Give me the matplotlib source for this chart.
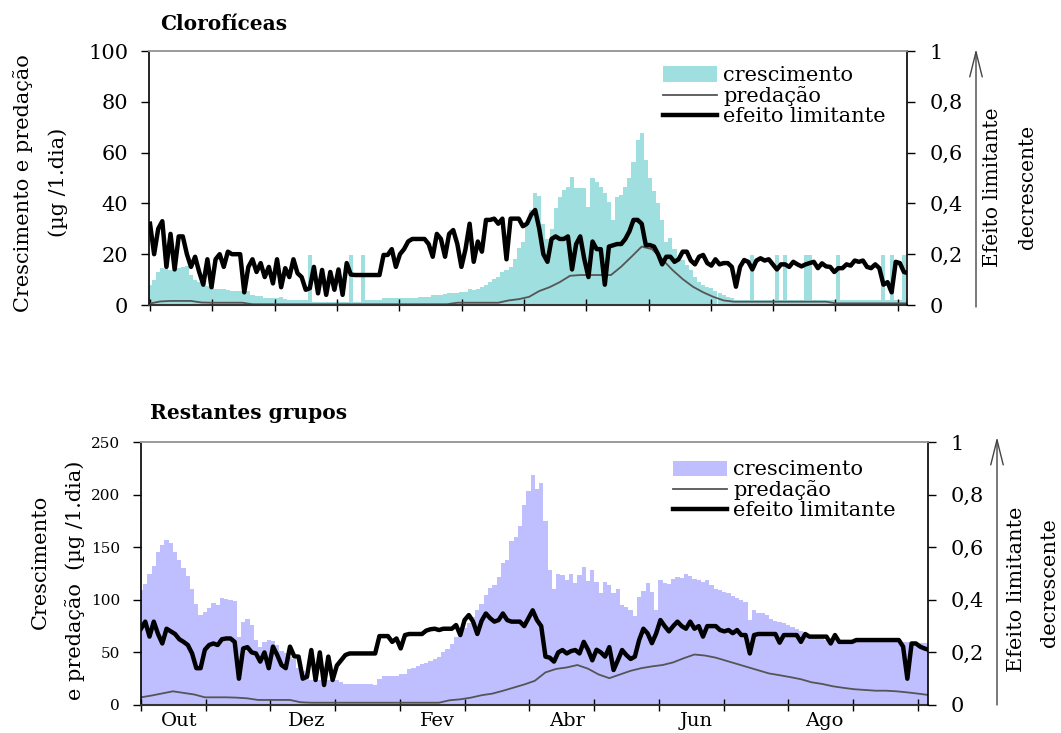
import numpy as np
import matplotlib
matplotlib.use("Agg")
import matplotlib.pyplot as plt
from matplotlib.patches import Patch, FancyArrowPatch
from matplotlib.lines import Line2D

plt.rcParams["font.family"] = ["DejaVu Serif"]

# ---------------------------------------------------------------------------
# Data: daily model output sampled every 2 days (growth, limiting effect)
# and every 5 days (grazing), day 0 = 1 October
# ---------------------------------------------------------------------------
days = np.arange(0, 371, 2)
pred_days = np.arange(0, 371, 5)

month_names = ["Out", "Dez", "Fev", "Abr", "Jun", "Ago"]
series_labels = ["crescimento", "predação", "efeito limitante"]

# Clorofíceas
cloro_growth = [
    8, 10, 13, 14.4, 14, 13.8, 14, 14.5, 15, 15.5,
    12, 9.8, 9, 8.5, 7.5, 7, 6.2, 6.2, 6.2, 5.8,
    5.6, 5.6, 5.6, 5.6, 5.4, 3.9, 3.5, 3.4, 2.8, 2.6,
    2.6, 2.6, 3.0, 2.2, 2.0, 2.0, 2.0, 2.0, 2.0, 19.7,
    1.3, 1.3, 1.3, 1.3, 1.3, 1.3, 1.3, 1.3, 1.3, 19.7,
    1.3, 1.3, 19.7, 2.0, 2.0, 2.0, 2.0, 2.6, 2.6, 2.6,
    2.6, 2.6, 2.6, 2.6, 2.6, 2.6, 3.3, 3.3, 3.3, 3.9,
    3.9, 3.9, 4.2, 4.6, 4.6, 4.8, 5.0, 5.2, 6.2, 6.0,
    6.4, 7.0, 7.9, 9.2, 10.1, 11.2, 13.1, 13.8, 15.1, 18,
    22.3, 25, 31, 37.4, 44, 43, 32, 26, 30, 38,
    42.7, 45.3, 46.6, 50.5, 46, 46, 46, 38.7, 49.9, 48.6,
    46.6, 44, 40.7, 33.5, 42.7, 43.5, 46.6, 49.9, 56.4, 65,
    67.6, 57, 50, 45, 40, 33.5, 24.9, 26.2, 22, 19,
    17.7, 15.7, 13.8, 11.2, 9.2, 7.9, 7.2, 6.6, 5.6, 4.6,
    3.9, 3.3, 2.6, 2, 2, 2, 2, 19.7, 2, 2,
    2, 2, 2, 19.7, 2, 19.7, 2, 2, 2, 2,
    19.7, 19.7, 2, 2, 2, 2, 2, 2, 19.7, 2,
    2, 2, 2, 2, 2, 2, 2, 2, 2, 19.7,
    2, 19.7, 2, 2, 19.7, 2,
]
cloro_pred = [
    0.6, 1.4, 1.6, 1.6, 1.6, 1.0, 0.9, 0.9, 0.9, 0.9,
    0.3, 0.3, 0.3, 0.3, 0.3, 0.3, 0.3, 0.3, 0.3, 0.3,
    0.3, 0.3, 0.3, 0.3, 0.3, 0.3, 0.3, 0.3, 0.3, 0.3,
    0.9, 0.9, 0.9, 0.9, 0.9, 1.8, 2.3, 3.2, 5.5, 7.0,
    9.0, 11.5, 11.8, 11.8, 11.8, 11.8, 15.1, 19, 23, 22,
    18, 13.8, 10.2, 7.2, 5.0, 3.2, 1.8, 1.3, 1.3, 1.3,
    1.3, 1.3, 1.3, 1.3, 1.3, 1.3, 1.3, 0.66, 0.66, 0.66,
    0.66, 0.66, 0.66, 0.66, 0.66,
]
cloro_limit = [
    0.32, 0.20, 0.30, 0.33, 0.15, 0.28, 0.14, 0.27, 0.27, 0.20,
    0.15, 0.19, 0.13, 0.08, 0.18, 0.07, 0.18, 0.20, 0.15, 0.21,
    0.20, 0.20, 0.20, 0.05, 0.15, 0.18, 0.13, 0.165, 0.11, 0.15,
    0.085, 0.18, 0.07, 0.145, 0.11, 0.18, 0.125, 0.11, 0.06, 0.066,
    0.15, 0.046, 0.138, 0.04, 0.13, 0.06, 0.14, 0.04, 0.165, 0.12,
    0.118, 0.118, 0.118, 0.118, 0.118, 0.118, 0.118, 0.197, 0.197, 0.22,
    0.15, 0.20, 0.22, 0.25, 0.26, 0.26, 0.26, 0.26, 0.24, 0.19,
    0.28, 0.26, 0.19, 0.28, 0.295, 0.24, 0.15, 0.22, 0.32, 0.17,
    0.25, 0.21, 0.335, 0.335, 0.34, 0.32, 0.34, 0.18, 0.34, 0.34,
    0.34, 0.31, 0.32, 0.355, 0.374, 0.30, 0.20, 0.17, 0.26, 0.27,
    0.26, 0.26, 0.27, 0.14, 0.24, 0.27, 0.18, 0.11, 0.25, 0.22,
    0.22, 0.08, 0.23, 0.235, 0.24, 0.24, 0.26, 0.29, 0.335, 0.335,
    0.32, 0.236, 0.236, 0.23, 0.20, 0.16, 0.19, 0.19, 0.17, 0.18,
    0.21, 0.21, 0.175, 0.16, 0.19, 0.197, 0.165, 0.155, 0.18, 0.16,
    0.165, 0.165, 0.15, 0.072, 0.15, 0.177, 0.17, 0.14, 0.175, 0.184,
    0.175, 0.18, 0.16, 0.14, 0.16, 0.16, 0.15, 0.17, 0.16, 0.152,
    0.16, 0.165, 0.17, 0.145, 0.164, 0.152, 0.15, 0.13, 0.145, 0.145,
    0.16, 0.155, 0.175, 0.17, 0.175, 0.15, 0.145, 0.16, 0.145, 0.08,
    0.09, 0.05, 0.17, 0.165, 0.13, 0.125,
]

# Restantes grupos
outros_growth = [
    109, 115, 125, 132, 145, 152, 157, 154, 145, 138,
    130, 123, 110, 96, 86, 88, 92, 97, 95, 102,
    101, 100, 99, 65, 79, 82, 76, 62, 55, 60,
    62, 61, 57, 51, 49, 46, 44, 35, 32, 30,
    24, 24, 24, 24, 24, 24, 24, 22, 20, 20,
    20, 20, 20, 20, 20, 19, 25, 27.6, 27.6, 27.6,
    27.6, 29.5, 29.5, 34, 35, 37, 38.5, 39.6, 42, 44,
    46, 50, 53, 58, 65, 69, 73, 78, 84, 90,
    96, 105, 111, 114, 122, 135, 138, 156, 160, 170,
    190, 203, 219, 205, 211, 175, 128, 110, 125, 124,
    119, 125, 116, 124, 131, 118, 128, 117, 106, 117,
    114, 106, 110, 95, 93, 90, 85, 103, 108, 116,
    107, 90, 119, 116, 115, 120, 122, 121, 125, 123,
    120, 119, 117, 119, 114, 110, 109, 107, 106, 104,
    102, 100, 98, 81, 90, 87, 87, 86, 82, 80,
    79, 78, 76, 74, 72, 70, 68, 67, 66, 64,
    63, 62, 62, 62, 62, 62, 62, 62, 62, 62,
    62, 60, 60, 60, 60, 60, 60, 60, 60, 60,
    60, 60, 60, 59, 59, 58.6,
]
outros_pred = [
    7.3, 9, 11, 13, 11.5, 10, 7.3, 7.3, 7.3, 7,
    6.3, 4.8, 4.8, 4.8, 4.8, 2.6, 2.2, 2.2, 2.2, 2.2,
    2.2, 2.2, 2.2, 2.2, 2.2, 2.2, 2.2, 2.2, 2.2, 4.5,
    5.4, 7, 9.3, 10.8, 13.5, 16.5, 19.5, 23, 31, 34.3,
    35.7, 38, 34.5, 29, 25.5, 29, 32.5, 35, 36.7, 38,
    40.5, 44.5, 48, 47, 45, 42, 39, 36, 33, 30,
    28.3, 26.5, 24.5, 21.6, 20, 17.8, 16.3, 15, 14.3, 13.6,
    13.6, 13, 12, 10.8, 9.5,
]
outros_limit = [
    0.29, 0.317, 0.26, 0.317, 0.27, 0.234, 0.29, 0.28, 0.27, 0.25,
    0.24, 0.228, 0.196, 0.14, 0.14, 0.21, 0.228, 0.234, 0.228, 0.25,
    0.253, 0.253, 0.24, 0.10, 0.215, 0.22, 0.2, 0.196, 0.165, 0.2,
    0.14, 0.222, 0.19, 0.152, 0.14, 0.222, 0.185, 0.184, 0.10, 0.108,
    0.209, 0.095, 0.20, 0.076, 0.184, 0.095, 0.15, 0.17, 0.19, 0.196,
    0.196, 0.196, 0.196, 0.196, 0.196, 0.196, 0.262, 0.262, 0.262, 0.24,
    0.253, 0.215, 0.266, 0.27, 0.27, 0.27, 0.27, 0.283, 0.288, 0.29,
    0.285, 0.29, 0.29, 0.29, 0.304, 0.266, 0.323, 0.342, 0.317, 0.27,
    0.32, 0.348, 0.33, 0.317, 0.323, 0.348, 0.323, 0.317, 0.317, 0.317,
    0.30, 0.33, 0.36, 0.323, 0.30, 0.184, 0.18, 0.165, 0.20, 0.209,
    0.196, 0.205, 0.209, 0.196, 0.24, 0.21, 0.17, 0.21, 0.20, 0.184,
    0.22, 0.133, 0.17, 0.209, 0.19, 0.175, 0.184, 0.247, 0.29, 0.272,
    0.235, 0.272, 0.323, 0.30, 0.28, 0.30, 0.317, 0.30, 0.29, 0.317,
    0.29, 0.30, 0.26, 0.30, 0.30, 0.30, 0.285, 0.28, 0.285, 0.273,
    0.285, 0.266, 0.266, 0.196, 0.266, 0.27, 0.27, 0.27, 0.27, 0.27,
    0.237, 0.266, 0.266, 0.266, 0.266, 0.24, 0.27, 0.26, 0.26, 0.26,
    0.26, 0.26, 0.234, 0.266, 0.24, 0.24, 0.24, 0.24, 0.247, 0.247,
    0.247, 0.247, 0.247, 0.247, 0.247, 0.247, 0.247, 0.247, 0.247, 0.222,
    0.10, 0.234, 0.234, 0.222, 0.215, 0.21,
]

# ---------------------------------------------------------------------------
W, H = 1061, 733
fig = plt.figure(figsize=(W / 100, H / 100), dpi=100)


def fx(px):
    return px / W


def fy(py):
    return 1 - py / H


CYAN = "#9fdfdf"
LAVENDER = "#bfbfff"
PRED_C = "#555555"
GRID_TOP = "#9a9a9a"

month_edges = np.arange(13) * 365 / 12
month_label_pos = [18, 78, 139, 200, 261, 321]


def panel(rect, growth, pred, limit, color, ymax, ystep, xlim, ylabelsize,
          legend_anchor, show_months):
    ax = fig.add_axes(rect)
    ax.bar(days, growth, width=2.0, color=color, linewidth=0, zorder=1)
    ax.plot(pred_days, pred, color=PRED_C, lw=1.3, zorder=2)
    ax.set_xlim(*xlim)
    ax.set_ylim(0, ymax)
    ax.set_yticks(np.arange(0, ymax + 1, ystep))
    ax.set_xticks(month_edges)
    ax.set_xticklabels([])
    ax.tick_params(axis="y", direction="out", length=6, width=1,
                   pad=9, labelsize=ylabelsize)
    ax.tick_params(axis="x", direction="inout", length=8, width=1)
    if show_months:
        ax.set_xticks(month_label_pos, minor=True)
        ax.set_xticklabels(month_names, minor=True)
        ax.tick_params(axis="x", which="minor", length=0, pad=5, labelsize=14)

    axr = ax.twinx()
    axr.plot(days, limit, color="black", lw=3.2, zorder=3)
    axr.set_ylim(0, 1)
    axr.set_xlim(*xlim)
    axr.set_yticks(np.arange(0, 1.01, 0.2))
    axr.set_yticklabels(["0", "0,2", "0,4", "0,6", "0,8", "1"])
    axr.tick_params(axis="y", direction="out", length=6, width=1,
                    pad=10, labelsize=15)

    for a in (ax, axr):
        a.spines["top"].set_color(GRID_TOP)
        a.spines["top"].set_linewidth(1.2)
    ax.spines["right"].set_visible(False)
    axr.spines["left"].set_visible(False)
    axr.spines["bottom"].set_visible(False)
    ax.spines["left"].set_linewidth(1.2)
    ax.spines["bottom"].set_linewidth(1.5)
    ax.spines["bottom"].set_color("#333333")
    axr.spines["right"].set_linewidth(1.2)

    handles = [
        Patch(facecolor=color, edgecolor="none"),
        Line2D([], [], color=PRED_C, lw=1.3),
        Line2D([], [], color="black", lw=3.2),
    ]
    axr.legend(handles, series_labels, loc="upper left",
               bbox_to_anchor=legend_anchor, frameon=False, fontsize=15,
               handlelength=2.6, handleheight=0.75, handletextpad=0.3,
               labelspacing=0.05, borderpad=0, borderaxespad=0)
    return ax, axr


# Top panel: Clorofíceas
panel([fx(149), fy(305), (907 - 149) / W, (305 - 51) / H],
      cloro_growth, cloro_pred, cloro_limit, CYAN, 100, 20,
      (-0.5, 369.5), 15, (0.678, 0.94), False)

# Bottom panel: Restantes grupos
panel([fx(141), fy(705), (928 - 141) / W, (705 - 442) / H],
      outros_growth, outros_pred, outros_limit, LAVENDER, 250, 50,
      (0, 369.7), 11, (0.676, 0.93), True)

# Panel titles
fig.text(fx(160), fy(24), "Clorofíceas", fontsize=14.5, fontweight="bold",
         va="center", ha="left")
fig.text(fx(150), fy(413), "Restantes grupos", fontsize=14.5,
         fontweight="bold", va="center", ha="left")

# Left axis titles
fig.text(fx(23), fy(183), "Crescimento e predação", rotation=90,
         ha="center", va="center", fontsize=15)
fig.text(fx(58), fy(182), "(µg /1.dia)", rotation=90,
         ha="center", va="center", fontsize=15)
fig.text(fx(40), fy(562), "Crescimento", rotation=90,
         ha="center", va="center", fontsize=15)
fig.text(fx(75), fy(580), "e predação  (µg /1.dia)", rotation=90,
         ha="center", va="center", fontsize=15)

# Right axis titles with upward arrows
fig.text(fx(993), fy(187), "Efeito limitante", rotation=90,
         ha="center", va="center", fontsize=14.5)
fig.text(fx(1028), fy(187), "decrescente", rotation=90,
         ha="center", va="center", fontsize=14.5)
fig.text(fx(1017), fy(589), "Efeito limitante", rotation=90,
         ha="center", va="center", fontsize=15)
fig.text(fx(1050), fy(583), "decrescente", rotation=90,
         ha="center", va="center", fontsize=15)

arrow_style = dict(arrowstyle="->,head_length=1.8,head_width=0.45",
                   mutation_scale=10, color="#444444", lw=1.0,
                   shrinkA=0, shrinkB=0)
fig.add_artist(FancyArrowPatch(
    (fx(976), fy(307)), (fx(976), fy(49)), transform=fig.transFigure,
    **arrow_style))
fig.add_artist(FancyArrowPatch(
    (fx(997), fy(705)), (fx(997), fy(437)), transform=fig.transFigure,
    **arrow_style))

fig.savefig("out.png", dpi=100)
